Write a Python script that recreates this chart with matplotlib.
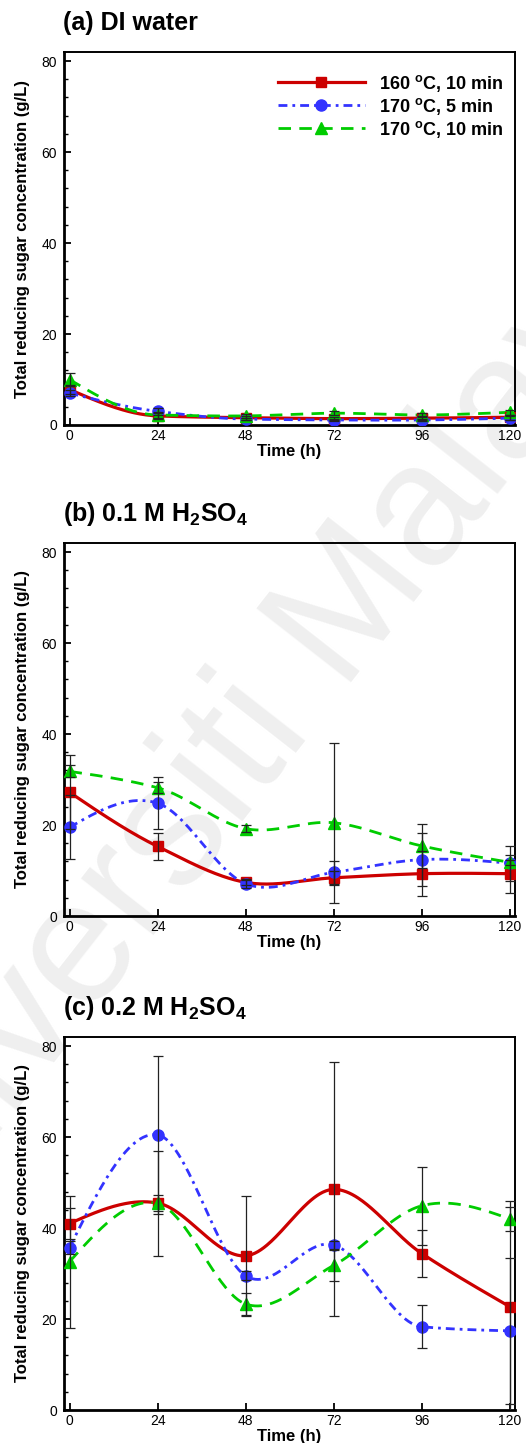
"""
Total reducing sugar released over 120 h for three pretreatment media.
Three stacked panels: DI water, 0.1 M and 0.2 M H2SO4.
"""
import numpy as np
import matplotlib
matplotlib.use('Agg')
import matplotlib.pyplot as plt
from matplotlib.ticker import MultipleLocator

plt.rcParams['font.family'] = ['Liberation Sans', 'DejaVu Sans']
plt.rcParams['mathtext.fontset'] = 'custom'
plt.rcParams['mathtext.rm'] = 'Liberation Sans'
plt.rcParams['mathtext.bf'] = 'Liberation Sans:bold'
plt.rcParams['mathtext.it'] = 'Liberation Sans:italic'

# ── data (g/L), sampled every 24 h ──
time_h = [0, 24, 48, 72, 96, 120]
conditions = ["160 $^{\\mathbf{o}}$C, 10 min", "170 $^{\\mathbf{o}}$C, 5 min", "170 $^{\\mathbf{o}}$C, 10 min"]

water_160_10 = [7.8, 2.0, 1.6, 1.4, 1.5, 1.7]
water_170_5 = [7.0, 3.0, 1.3, 1.1, 1.1, 1.5]
water_170_10 = [10.0, 2.2, 2.0, 2.6, 2.2, 2.8]
water_160_10_err = [1.0, 0.6, 0.4, 0.4, 0.4, 0.5]
water_170_5_err = [0.6, 0.8, 0.3, 0.3, 0.3, 0.4]
water_170_10_err = [1.4, 0.6, 0.4, 0.5, 0.5, 0.6]

acid01_160_10 = [27.2, 15.3, 7.4, 8.4, 9.3, 9.3]
acid01_170_5 = [19.5, 24.8, 7.1, 9.6, 12.4, 11.6]
acid01_170_10 = [31.8, 28.2, 19.2, 20.5, 15.4, 11.8]
acid01_160_10_err = [8.1, 2.9, 0.5, 1.6, 4.9, 4.2]
acid01_170_5_err = [7.0, 5.7, 1.0, 2.5, 5.8, 3.8]
acid01_170_10_err = [1.3, 1.2, 0.8, 17.6, 4.8, 0.5]

acid02_160_10 = [41.0, 45.5, 33.9, 48.5, 34.4, 22.7]
acid02_170_5 = [35.7, 60.5, 29.5, 36.3, 18.3, 17.4]
acid02_170_10 = [32.6, 45.4, 23.3, 31.8, 44.9, 42.0]
acid02_160_10_err = [3.5, 1.8, 13.2, 27.9, 5.1, 23.3]
acid02_170_5_err = [1.5, 17.4, 1.0, 0.8, 4.7, 16.0]
acid02_170_10_err = [14.5, 11.5, 2.5, 3.4, 8.6, 2.6]

panels = [
    ("(a) DI water",
     [water_160_10, water_170_5, water_170_10],
     [water_160_10_err, water_170_5_err, water_170_10_err]),
    ("(b) 0.1 M H$_\\mathbf{2}$SO$_\\mathbf{4}$",
     [acid01_160_10, acid01_170_5, acid01_170_10],
     [acid01_160_10_err, acid01_170_5_err, acid01_170_10_err]),
    ("(c) 0.2 M H$_\\mathbf{2}$SO$_\\mathbf{4}$",
     [acid02_160_10, acid02_170_5, acid02_170_10],
     [acid02_160_10_err, acid02_170_5_err, acid02_170_10_err]),
]

styles = [
    dict(color='#cc0000', marker='s', ms=6.5, lw=2.3, ls='-'),
    dict(color='#3333ff', marker='o', ms=8, lw=2.0, ls=(0, (3.2, 1.8, 1.0, 1.8))),
    dict(color='#00cc00', marker='^', ms=8.5, lw=2.0, ls=(0, (4.5, 3.0))),
]


def smooth_curve(x, y, n=300):
    """Cubic Hermite curve through the points.

    Tangents: harmonic mean of neighbouring slopes when they agree in sign
    (keeps flat runs flat), plain average at turning points, natural ends.
    """
    x = np.asarray(x, float)
    y = np.asarray(y, float)
    h = np.diff(x)
    s = np.diff(y) / h
    m = np.zeros_like(y)
    for i in range(1, len(y) - 1):
        a, b = s[i - 1], s[i]
        if a * b > 0:
            m[i] = 2.0 / (1.0 / a + 1.0 / b)
        else:
            m[i] = 0.5 * (a + b)
    m[0] = 0.5 * (3 * s[0] - m[1])
    m[-1] = 0.5 * (3 * s[-1] - m[-2])

    xs = np.linspace(x[0], x[-1], n)
    idx = np.clip(np.searchsorted(x, xs, side='right') - 1, 0, len(x) - 2)
    t = (xs - x[idx]) / h[idx]
    h00 = 2 * t ** 3 - 3 * t ** 2 + 1
    h10 = t ** 3 - 2 * t ** 2 + t
    h01 = -2 * t ** 3 + 3 * t ** 2
    h11 = t ** 3 - t ** 2
    ys = (h00 * y[idx] + h10 * h[idx] * m[idx]
          + h01 * y[idx + 1] + h11 * h[idx] * m[idx + 1])
    return xs, ys


W, H = 526, 1443
fig = plt.figure(figsize=(W / 100, H / 100), dpi=100)

# faint background stamp
fig.text(245 / W, 1 - 745 / H, "Universiti Malaya", fontsize=125, color='#efefef',
         rotation=52, ha='center', va='center', zorder=-1)

axes_top_px = [52, 543, 1037]
axes_h_px = 373

for (title, series, errs), top in zip(panels, axes_top_px):
    ax = fig.add_axes([64 / W, 1 - (top + axes_h_px) / H, 451 / W, axes_h_px / H])
    ax.set_facecolor('none')

    for vals, st, lab in zip(series, styles, conditions):
        xs, ys = smooth_curve(time_h, vals)
        ax.plot(xs, ys, color=st['color'], lw=st['lw'], ls=st['ls'], zorder=2)
        ax.plot(time_h, vals, ls='none', marker=st['marker'], ms=st['ms'],
                color=st['color'], mec=st['color'], zorder=3)
        # legend proxy
        ax.plot([], [], color=st['color'], lw=st['lw'], ls=st['ls'],
                marker=st['marker'], ms=st['ms'], label=lab)
    for vals, err in zip(series, errs):
        ax.errorbar(time_h, vals, yerr=err, fmt='none', ecolor='#222222',
                    elinewidth=0.9, capsize=3.5, capthick=0.9, zorder=4)

    ax.set_xlim(-1.5, 121.4)
    ax.set_ylim(0, 82)
    ax.set_xticks(time_h)
    ax.yaxis.set_major_locator(MultipleLocator(20))
    ax.yaxis.set_minor_locator(MultipleLocator(4))
    ax.tick_params(axis='both', which='major', direction='in', length=5, width=1.3,
                   labelsize=10, top=False, right=False)
    ax.tick_params(axis='y', which='minor', direction='in', length=3, width=1.0, right=False)
    ax.tick_params(axis='x', pad=3)
    ax.tick_params(axis='y', pad=5)
    for side in ['left', 'bottom']:
        ax.spines[side].set_linewidth(2.0)
    for side in ['top', 'right']:
        ax.spines[side].set_linewidth(1.4)

    ax.set_xlabel('Time (h)', fontsize=12, fontweight='bold', va='center')
    ax.xaxis.set_label_coords(0.5, -0.072)
    ax.set_ylabel('Total reducing sugar concentration (g/L)', fontsize=12,
                  fontweight='bold', va='center')
    ax.yaxis.set_label_coords(-0.091, 0.5)

    fig.text(63 / W, 1 - (top - 22) / H, title, fontsize=18, fontweight='bold',
             ha='left', va='baseline')

    if top == axes_top_px[0]:
        ax.legend(loc='upper right', bbox_to_anchor=(1.02, 1.0), frameon=False,
                  handlelength=4.8, handletextpad=0.8, labelspacing=0.11,
                  borderaxespad=0.75, prop=dict(weight='bold', size=13))

fig.savefig('out.png', dpi=100)
